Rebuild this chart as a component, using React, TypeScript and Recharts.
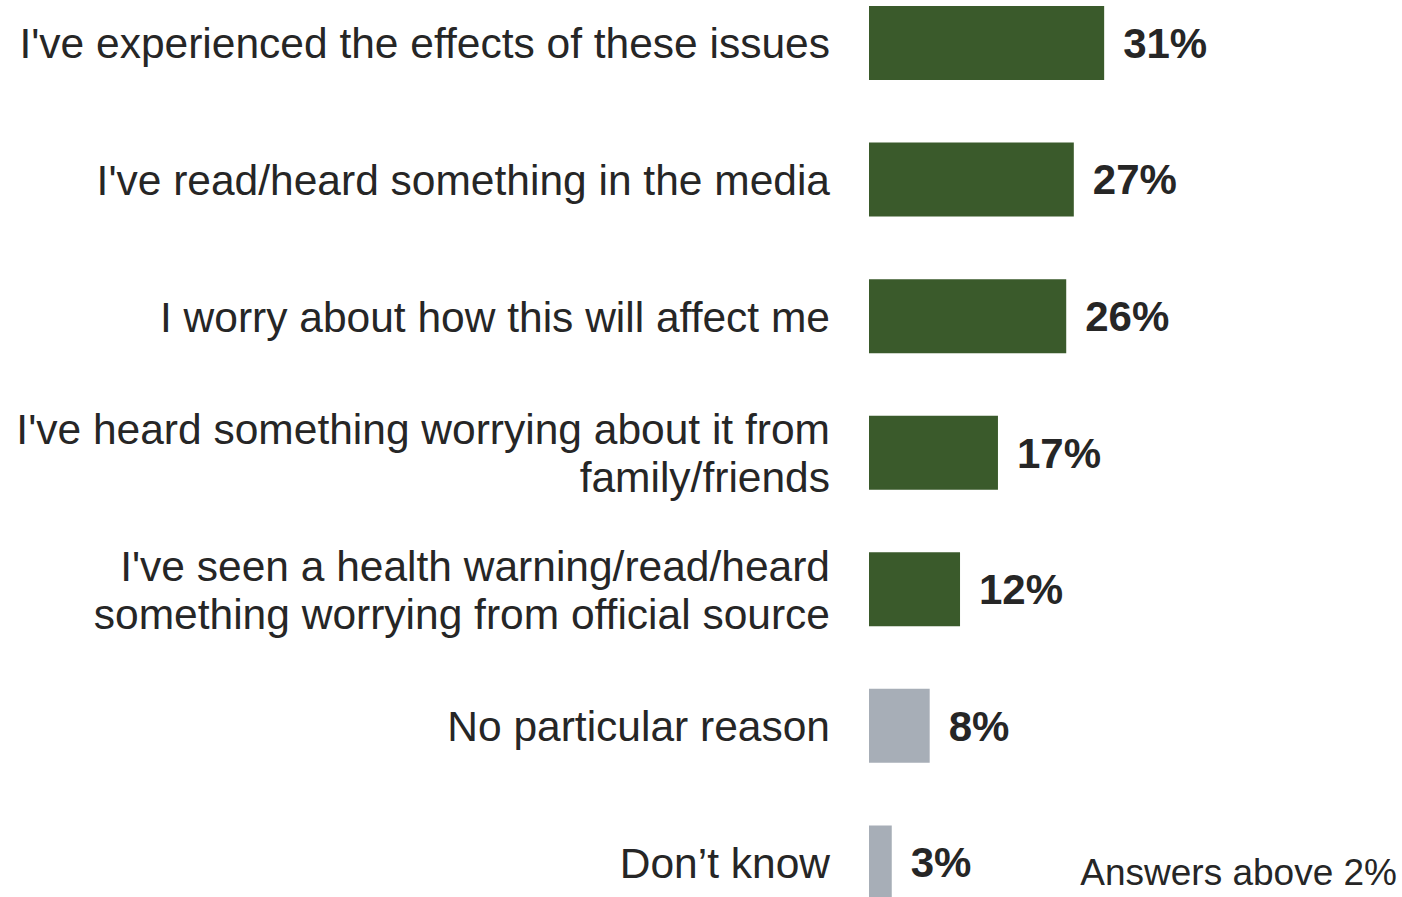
import React from "react";
import { BarChart, Bar, XAxis, YAxis, Cell, LabelList } from "recharts";

const categories = [
  "I've experienced the effects of these issues",
  "I've read/heard something in the media",
  "I worry about how this will affect me",
  "I've heard something worrying about it from\nfamily/friends",
  "I've seen a health warning/read/heard\nsomething worrying from official source",
  "No particular reason",
  "Don\u2019t know",
];
const values = [31, 27, 26, 17, 12, 8, 3];
const neutral = [false, false, false, false, false, true, true];

const data = categories.map((name, i) => ({ name, value: values[i], neutral: neutral[i] }));

const FONT = "'Liberation Sans', Arial, sans-serif";
const TEXT = "#262626";

function CategoryTick(props: any) {
  const { x, y, payload } = props;
  const lines = String(payload.value).split("\n");
  const lh = 48;
  const start = -((lines.length - 1) * lh) / 2;
  return (
    <text
      x={x}
      y={y}
      textAnchor="end"
      fill={TEXT}
      fontFamily={FONT}
      fontSize={42.5}
    >
      {lines.map((l, i) => (
        <tspan key={i} x={x} y={y + start + i * lh} dy="0.355em">
          {l}
        </tspan>
      ))}
    </text>
  );
}

export default function App() {
  return (
    <div
      style={{
        position: "absolute",
        left: 0,
        top: 0,
        width: 1402,
        height: 897,
        overflow: "hidden",
        background: "#fff",
      }}
    >
      <div style={{ position: "absolute", left: 0, top: -25 }}>
        <BarChart
          width={1402}
          height={956}
          data={data}
          layout="vertical"
          margin={{ top: 0, right: 2, bottom: 0, left: 0 }}
          barCategoryGap={0}
        >
          <XAxis type="number" domain={[0, 70]} hide />
          <YAxis
            type="category"
            dataKey="name"
            width={869}
            axisLine={false}
            tickLine={false}
            tickMargin={33}
            tick={<CategoryTick />}
            interval={0}
          />
          <Bar dataKey="value" barSize={74} isAnimationActive={false}>
            {data.map((d, i) => (
              <Cell key={i} fill={d.neutral ? "#a7aeb7" : "#3a5a2b"} />
            ))}
            <LabelList
              dataKey="value"
              position="right"
              offset={19}
              formatter={(v: any) => `${v}%`}
              fill={TEXT}
              fontFamily={FONT}
              fontSize={42}
              fontWeight="bold"
            />
          </Bar>
        </BarChart>
      </div>
      <div
        style={{
          position: "absolute",
          right: 5,
          top: 852,
          fontFamily: FONT,
          fontSize: 37,
          color: TEXT,
          whiteSpace: "nowrap",
        }}
      >
        Answers above 2%
      </div>
    </div>
  );
}
